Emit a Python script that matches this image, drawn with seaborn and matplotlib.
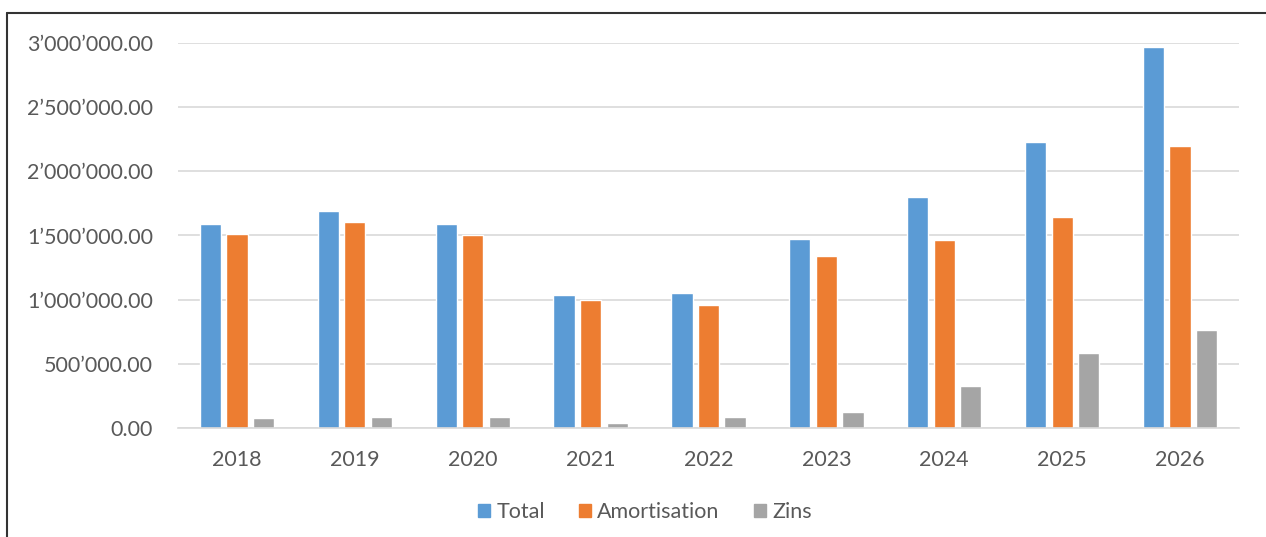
import pandas as pd
import matplotlib.pyplot as plt
import seaborn as sns
from matplotlib.lines import Line2D
from matplotlib.ticker import FuncFormatter

# data
years = ["2018", "2019", "2020", "2021", "2022", "2023", "2024", "2025", "2026"]
total = [1587000, 1691000, 1587000, 1033000, 1051000, 1475000, 1800000, 2230000, 2971000]
amortisation = [1514000, 1605000, 1501000, 994000, 962000, 1344000, 1462000, 1644000, 2196000]
zins = [78000, 88000, 83000, 41000, 83000, 122000, 330000, 582000, 765000]

series_names = ["Total", "Amortisation", "Zins"]
colors = ["#5B9BD5", "#ED7D31", "#A5A5A5"]

df = pd.DataFrame({
    "Jahr": years * 3,
    "Wert": total + amortisation + zins,
    "Serie": [s for s in series_names for _ in years],
})

sns.set_style("white")
plt.rcParams["font.family"] = ["Lato", "DejaVu Sans"]

W, H = 1266, 537
fig = plt.figure(figsize=(W / 100, H / 100), dpi=100)
ax = fig.add_axes([178 / W, 1 - 428 / H, (1239 - 178) / W, (428 - 43) / H])

sns.barplot(
    data=df, x="Jahr", y="Wert", hue="Serie",
    palette=colors, width=0.675, gap=0.2,
    saturation=1, ax=ax, legend=False,
)

ax.set_ylim(0, 3000000)
ax.set_yticks(range(0, 3000001, 500000))
ax.yaxis.set_major_formatter(
    FuncFormatter(lambda v, p: f"{v:,.2f}".replace(",", "\u2019"))
)
ax.grid(axis="y", color="#D9D9D9", linewidth=1.2)
ax.set_axisbelow(True)
for s in ["top", "right", "left"]:
    ax.spines[s].set_visible(False)
ax.spines["bottom"].set_color("#D9D9D9")
ax.spines["bottom"].set_linewidth(1.2)
ax.set_xlabel("")
ax.set_ylabel("")
ax.tick_params(axis="both", length=0, labelsize=15.5, colors="#595959")
ax.tick_params(axis="y", pad=18)
ax.tick_params(axis="x", pad=16)

# legend at the bottom
handles = [plt.Rectangle((0, 0), 1, 1, color=c) for c in colors]
fig.legend(
    handles, series_names, loc="center", bbox_to_anchor=(645 / W, 1 - 512 / H),
    ncol=3, frameon=False, fontsize=15.5, labelcolor="#595959",
    handlelength=0.55, handleheight=0.55, handletextpad=0.3, columnspacing=1.6,
)

# outer frame (top and left edges only visible)
fig.add_artist(Line2D([7 / W, 1], [1 - 13 / H, 1 - 13 / H], color="#333333", lw=1.5))
fig.add_artist(Line2D([7 / W, 7 / W], [0, 1 - 13 / H], color="#333333", lw=1.5))

fig.savefig("out.png", dpi=100)
